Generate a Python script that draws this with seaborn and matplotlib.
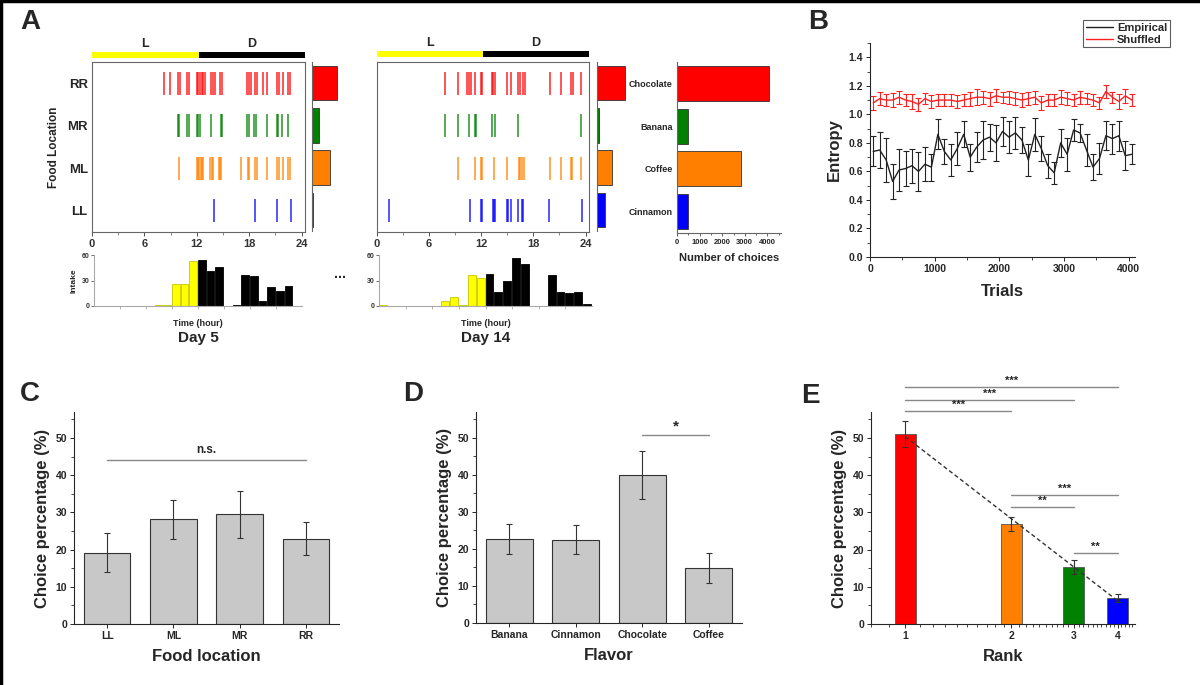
import numpy as np
import pandas as pd
import seaborn as sns
import matplotlib
import matplotlib.pyplot as plt
from matplotlib.ticker import MultipleLocator, FixedLocator, NullFormatter
from matplotlib.lines import Line2D

sns.set_style('ticks')
plt.rcParams['font.family'] = ['Liberation Sans', 'DejaVu Sans']
plt.rcParams['font.weight'] = 'bold'
plt.rcParams['axes.labelweight'] = 'bold'
plt.rcParams['axes.linewidth'] = 0.8
plt.rcParams['xtick.direction'] = 'out'
plt.rcParams['ytick.direction'] = 'out'

# ---------------- data ----------------
locations = ['LL', 'ML', 'MR', 'RR']          # bottom -> top
loc_colors = ['#0000ff', '#ff8000', '#008000', '#ff0000']

# feeding events (hour of day), panel A
day5_rr = [8.2, 8.95, 9.9, 10.1, 10.93, 11.16, 12.0, 12.19, 12.38, 12.57, 12.76, 12.91,
           13.6, 13.9, 14.13, 14.67, 14.86, 17.8, 18.02, 18.17, 18.7, 18.86, 19.6, 20.0,
           21.14, 21.37, 21.83, 22.5, 22.67]
day5_mr = [9.83, 10.02, 10.93, 11.09, 12.0, 12.19, 12.38, 13.6, 14.74, 14.9, 17.8, 18.02,
           18.55, 18.78, 20.08, 21.14, 21.3, 21.75, 22.5]
day5_ml = [10.02, 12.0, 12.15, 12.3, 12.46, 12.6, 12.76, 13.52, 13.75, 13.9, 14.5, 14.67,
           14.82, 17.03, 17.87, 18.02, 18.63, 18.86, 20.0, 21.14, 21.37, 21.83, 22.5, 22.67]
day5_ll = [13.98, 18.7, 21.14, 22.74]

day14_rr = [7.86, 9.28, 10.31, 10.62, 10.81, 11.27, 11.92, 12.08, 13.27, 13.38, 13.54, 14.91,
            15.37, 16.26, 16.45, 16.83, 17.06, 19.9, 21.2, 22.35, 22.58, 23.5]
day14_mr = [7.82, 9.36, 10.62, 11.27, 11.39, 13.23, 13.61, 16.18, 23.43]
day14_ml = [9.28, 11.27, 11.96, 12.08, 13.46, 14.99, 16.3, 16.45, 16.64, 16.91, 19.9, 21.2,
            22.35, 22.5, 23.43]
day14_ll = [1.38, 10.66, 12.0, 12.08, 13.3, 13.46, 13.54, 14.91, 15.03, 15.45, 16.26, 16.64,
            16.76, 19.82, 23.58]

# daily totals per location (LL, ML, MR, RR)
day5_totals = [2, 55, 20, 75]
day14_totals = [24, 44, 6, 85]

# hourly intake
hours = list(range(24))
day5_intake = [0, 0, 0, 0, 0, 0, 0, 1, 1, 26, 26, 53, 54, 41, 46, 0, 1, 36, 35, 6, 22, 18, 23, 0]
day14_intake = [1, 0, 0, 0, 0, 0, 0, 6, 11, 1, 36, 32.5, 37.5, 16, 29, 57, 49, 0, 0, 36.5, 17, 15, 16, 2.5]

# number of choices per flavor
flavors = ['Chocolate', 'Banana', 'Coffee', 'Cinnamon']
flavor_counts = [4050, 485, 2825, 485]
flavor_colors = ['#ff0000', '#008000', '#ff8000', '#0000ff']

# panel B entropy
trials = np.arange(50, 4051, 100)
empirical = [0.74, 0.75, 0.68, 0.53, 0.61, 0.62, 0.64, 0.60, 0.65, 0.63, 0.86, 0.74, 0.68, 0.76,
             0.86, 0.70, 0.77, 0.82, 0.84, 0.80, 0.88, 0.84, 0.87, 0.82, 0.68, 0.86, 0.76, 0.64,
             0.59, 0.80, 0.72, 0.89, 0.87, 0.75, 0.63, 0.69, 0.85, 0.83, 0.85, 0.71, 0.72]
empirical_err = [0.105, 0.125, 0.155, 0.125, 0.15, 0.12, 0.12, 0.135, 0.12, 0.095, 0.105, 0.09,
                 0.11, 0.115, 0.09, 0.095, 0.105, 0.13, 0.095, 0.125, 0.10, 0.11, 0.11, 0.09,
                 0.115, 0.115, 0.09, 0.085, 0.075, 0.10, 0.115, 0.075, 0.065, 0.115, 0.09, 0.11,
                 0.10, 0.105, 0.105, 0.10, 0.07]
shuffled = [1.08, 1.11, 1.10, 1.10, 1.12, 1.10, 1.09, 1.07, 1.11, 1.09, 1.10, 1.10, 1.10, 1.09,
            1.10, 1.11, 1.12, 1.12, 1.11, 1.13, 1.12, 1.12, 1.11, 1.10, 1.11, 1.12, 1.08, 1.10,
            1.10, 1.12, 1.11, 1.10, 1.12, 1.11, 1.10, 1.08, 1.16, 1.12, 1.09, 1.13, 1.10]
shuffled_err = [0.05, 0.045, 0.045, 0.05, 0.045, 0.045, 0.05, 0.045, 0.04, 0.045, 0.045, 0.045,
                0.04, 0.045, 0.045, 0.05, 0.055, 0.045, 0.05, 0.045, 0.04, 0.045, 0.045, 0.05,
                0.045, 0.045, 0.05, 0.045, 0.045, 0.05, 0.045, 0.045, 0.045, 0.04, 0.045, 0.045,
                0.045, 0.04, 0.05, 0.05, 0.045]

# panel C
c_locations = ['LL', 'ML', 'MR', 'RR']
c_means = [19.2, 28.1, 29.5, 22.8]
c_lo = [14.1, 22.8, 23.1, 18.6]
c_hi = [24.4, 33.4, 35.8, 27.3]

# panel D
d_flavors = ['Banana', 'Cinnamon', 'Chocolate', 'Coffee']
d_means = [22.6, 22.4, 39.9, 14.8]
d_lo = [18.6, 18.6, 33.5, 10.8]
d_hi = [26.8, 26.5, 46.5, 18.9]

# panel E
ranks = [1, 2, 3, 4]
e_means = [51.1, 26.9, 15.3, 7.0]
e_lo = [47.6, 24.9, 13.5, 5.8]
e_hi = [54.5, 28.7, 17.1, 8.2]
e_colors = ['#ff0000', '#ff8000', '#008000', '#0000ff']
# (rank a, rank b, bar height, label)
e_sig = [(1, 4, 63.7, '***'), (1, 3, 60.3, '***'), (1, 2, 57.2, '***'),
         (2, 4, 34.6, '***'), (2, 3, 31.4, '**'), (3, 4, 19.0, '**')]

# ---------------- figure ----------------
W, H = 1200, 685
fig = plt.figure(figsize=(W / 100, H / 100), dpi=100)


def px_axes(left, top, right, bottom):
    return fig.add_axes([left / W, 1 - bottom / H, (right - left) / W, (bottom - top) / H])


def raster(ax, events, ylabels):
    for i, ev in enumerate(events):
        ax.eventplot(ev, lineoffsets=i, linelengths=0.55, colors=loc_colors[i],
                     linewidths=1.1, alpha=0.85)
    ax.set_xlim(0, 24.4)
    ax.set_ylim(-0.5, 3.5)
    ax.xaxis.set_major_locator(FixedLocator([0, 6, 12, 18, 24]))
    ax.xaxis.set_minor_locator(FixedLocator([3, 9, 15, 21]))
    ax.tick_params(axis='x', labelsize=8, length=3, width=0.6, pad=2, colors='#333')
    ax.tick_params(axis='x', which='minor', length=2, width=0.5, colors='#555')
    ax.set_yticks(range(4))
    if ylabels:
        ax.set_yticklabels(locations, fontsize=9.5)
        ax.tick_params(axis='y', length=0, pad=3)
        ax.set_ylabel('Food Location', fontsize=8.5, labelpad=5)
    else:
        ax.set_yticklabels([])
        ax.tick_params(axis='y', length=0)
    for s in ax.spines.values():
        s.set_color('#666')
        s.set_linewidth(0.8)


def ld_bar(ax):
    ax.barh([0], [12], left=[0], height=1, color='#ffff00', edgecolor='none')
    ax.barh([0], [12], left=[12], height=1, color='black', edgecolor='none')
    ax.set_xlim(0, 24)
    ax.set_ylim(-0.5, 0.5)
    ax.axis('off')
    ax.text(6, 0.9, 'L', ha='center', va='bottom', fontsize=9)
    ax.text(18, 0.9, 'D', ha='center', va='bottom', fontsize=9)


def side_bars(ax, totals):
    ax.barh(range(4), totals, height=0.82, color=loc_colors, edgecolor='#333', linewidth=0.6)
    ax.set_xlim(0, 90)
    ax.set_ylim(-0.5, 3.5)
    sns.despine(ax=ax, top=True, right=True, bottom=True)
    ax.spines['left'].set_color('#666')
    ax.set_xticks([])
    ax.set_yticks([])


def intake(ax, vals, day):
    cols = ['#ffff00' if h < 12 else 'black' for h in hours]
    edges = ['#c8c800' if h < 12 else 'black' for h in hours]
    ax.bar(hours, vals, width=0.9, align='edge', color=cols, edgecolor=edges, linewidth=0.6)
    ax.set_xlim(0, 24)
    ax.set_ylim(0, 60)
    ax.set_yticks([0, 30, 60])
    ax.set_xticks([3, 6, 9, 12, 15, 18, 21])
    ax.set_xticklabels([])
    ax.tick_params(axis='y', labelsize=5, length=2, width=0.5, pad=1.5, colors='#333')
    ax.tick_params(axis='x', length=2, width=0.5, colors='#999')
    sns.despine(ax=ax)
    ax.spines['left'].set_color('#aaa')
    ax.spines['bottom'].set_color('#aaa')
    ax.set_xlabel('Time (hour)', fontsize=6.5, labelpad=4)
    ax.text(0.5, -0.62, day, transform=ax.transAxes, ha='center', va='center', fontsize=11)


# panel A, day 5
ax = px_axes(92, 62, 305, 232)
raster(ax, [day5_ll, day5_ml, day5_mr, day5_rr], True)
ld_bar(px_axes(92, 52, 305, 58))
side_bars(px_axes(312, 62, 342, 231), day5_totals)
ax = px_axes(94, 255, 302, 306)
intake(ax, day5_intake, 'Day 5')
ax.set_ylabel('Intake', fontsize=6, labelpad=3)

# panel A, day 14
ax = px_axes(377, 62, 589, 232)
raster(ax, [day14_ll, day14_ml, day14_mr, day14_rr], False)
ld_bar(px_axes(377, 51, 589, 57))
side_bars(px_axes(597, 62, 627, 231), day14_totals)
intake(px_axes(379, 255, 592, 306), day14_intake, 'Day 14')

fig.text(340 / W, 1 - 274 / H, '...', ha='center', va='center', fontsize=10)

# flavor totals
axF = px_axes(677, 62, 781, 233)
sns.barplot(x=flavor_counts, y=flavors, hue=flavors, palette=flavor_colors, orient='h',
            width=0.82, saturation=1, legend=False, ax=axF, edgecolor='#333', linewidth=0.6)
axF.set_ylim(3.5, -0.5)
axF.set_xlim(0, 4600)
axF.set_xticks([0, 1000, 2000, 3000, 4000])
axF.xaxis.set_minor_locator(MultipleLocator(500))
axF.tick_params(axis='x', labelsize=5.5, length=2.5, width=0.5, pad=1.5)
axF.tick_params(axis='x', which='minor', length=1.5, width=0.5)
axF.tick_params(axis='y', length=0, labelsize=6.5, pad=3)
axF.set_xlabel('Number of choices', fontsize=8, labelpad=5)
axF.set_ylabel('')
sns.despine(ax=axF)
axF.spines['left'].set_color('#666')
axF.spines['bottom'].set_color('#666')

# panel B
axB = px_axes(870, 43, 1135, 257)
sns.lineplot(x=trials, y=empirical, color='#222', linewidth=1.0, ax=axB)
sns.lineplot(x=trials, y=shuffled, color='#ff2020', linewidth=1.0, ax=axB)
axB.errorbar(trials, empirical, yerr=empirical_err, fmt='none', ecolor='#222', elinewidth=0.8,
             capsize=2, capthick=0.8)
axB.errorbar(trials, shuffled, yerr=shuffled_err, fmt='none', ecolor='#ff2020', elinewidth=0.8,
             capsize=2, capthick=0.8)
axB.set_xlim(0, 4100)
axB.set_ylim(0, 1.5)
axB.set_xticks([0, 1000, 2000, 3000, 4000])
axB.set_yticks([0.0, 0.2, 0.4, 0.6, 0.8, 1.0, 1.2, 1.4])
axB.yaxis.set_major_formatter(matplotlib.ticker.FormatStrFormatter('%.1f'))
axB.xaxis.set_minor_locator(MultipleLocator(500))
axB.yaxis.set_minor_locator(MultipleLocator(0.1))
axB.tick_params(labelsize=7.5, length=3, width=0.7, pad=2)
axB.tick_params(which='minor', length=2, width=0.6)
axB.set_xlabel('Trials', fontsize=12, labelpad=7)
axB.set_ylabel('Entropy', fontsize=12, labelpad=5)
sns.despine(ax=axB)
handles = [Line2D([], [], color='#222', lw=1.0), Line2D([], [], color='#ff2020', lw=1.0)]
leg = axB.legend(handles, ['Empirical', 'Shuffled'], loc='upper right',
                 bbox_to_anchor=(1.132, 1.107), fontsize=8, frameon=True, fancybox=False,
                 borderaxespad=0, handlelength=2.4, borderpad=0.25, labelspacing=0.15,
                 handletextpad=0.4)
leg.get_frame().set_edgecolor('#333')
leg.get_frame().set_linewidth(0.8)


def pct_axis(ax, xlabel):
    ax.set_ylim(0, 57)
    ax.set_yticks([0, 10, 20, 30, 40, 50])
    ax.yaxis.set_minor_locator(MultipleLocator(5))
    ax.tick_params(labelsize=7.5, length=3, width=0.7, pad=2)
    ax.tick_params(which='minor', length=2, width=0.6)
    ax.set_ylabel('Choice percentage (%)', fontsize=12, labelpad=4)
    ax.set_xlabel(xlabel, fontsize=12, labelpad=6)
    sns.despine(ax=ax)


# panel C
axC = px_axes(74, 412, 339, 624)
sns.barplot(x=c_locations, y=c_means, color='#c8c8c8', saturation=1, width=0.7,
            edgecolor='#333', linewidth=0.8, errorbar=None, ax=axC)
axC.errorbar(range(4), c_means,
             yerr=[np.subtract(c_means, c_lo), np.subtract(c_hi, c_means)],
             fmt='none', ecolor='#333', elinewidth=0.8, capsize=2, capthick=0.8)
axC.set_xlim(-0.5, 3.5)
pct_axis(axC, 'Food location')
axC.plot([0, 3], [44.2, 44.2], color='#888', lw=1.0)
axC.text(1.5, 45.2, 'n.s.', ha='center', va='bottom', fontsize=8.5)

# panel D
axD = px_axes(476, 412, 742, 623)
sns.barplot(x=d_flavors, y=d_means, color='#c8c8c8', saturation=1, width=0.7,
            edgecolor='#333', linewidth=0.8, errorbar=None, ax=axD)
axD.errorbar(range(4), d_means,
             yerr=[np.subtract(d_means, d_lo), np.subtract(d_hi, d_means)],
             fmt='none', ecolor='#333', elinewidth=0.8, capsize=2, capthick=0.8)
axD.set_xlim(-0.5, 3.5)
pct_axis(axD, 'Flavor')
axD.plot([2, 3], [50.7, 50.7], color='#888', lw=1.0)
axD.text(2.5, 51.3, '*', ha='center', va='bottom', fontsize=11)

# panel E
axE = px_axes(871, 412, 1135, 624)
axE.set_xscale('log')
half = 10 ** 0.0303
r = np.array(ranks, dtype=float)
axE.bar(r / half, e_means, width=r * half - r / half, align='edge', color=e_colors,
        edgecolor='#555', linewidth=0.6)
axE.errorbar(r, e_means, yerr=[np.subtract(e_means, e_lo), np.subtract(e_hi, e_means)],
             fmt='none', ecolor='#333', elinewidth=0.8, capsize=2, capthick=0.8)
coef = np.polyfit(np.log(r), e_means, 1)
xs = np.linspace(1, 4, 60)
axE.plot(xs, coef[1] + coef[0] * np.log(xs), color='#333', lw=1.0, ls=(0, (3, 2)))
axE.set_xlim(0.8, 4.48)
pct_axis(axE, 'Rank')
axE.xaxis.set_major_locator(FixedLocator(ranks))
axE.xaxis.set_major_formatter(matplotlib.ticker.FixedFormatter([str(k) for k in ranks]))
minor_pos = [round(v, 1) for v in np.arange(0.8, 4.45, 0.1) if round(v, 1) not in ranks]
axE.xaxis.set_minor_locator(FixedLocator(minor_pos))
axE.xaxis.set_minor_formatter(NullFormatter())
axE.tick_params(axis='x', which='minor', length=2.5, width=0.6, bottom=True)
for a, b, y, lab in e_sig:
    axE.plot([a, b], [y, y], color='#888', lw=1.0, clip_on=False)
    axE.text(np.sqrt(a * b), y + 0.3, lab, ha='center', va='bottom', fontsize=8, clip_on=False)

# panel letters
for lab, x, y in [('A', 30, 22), ('B', 818, 22), ('C', 30, 394), ('D', 413, 394), ('E', 810, 396)]:
    fig.text(x / W, 1 - y / H, lab, ha='center', va='center', fontsize=20, fontweight='bold')

# frame lines on the left and top edge
fig.add_artist(Line2D([0.001, 0.001], [0, 1], transform=fig.transFigure, color='black', lw=2.5))
fig.add_artist(Line2D([0, 1], [0.998, 0.998], transform=fig.transFigure, color='black', lw=2.5))

fig.savefig('out.png', dpi=100)
